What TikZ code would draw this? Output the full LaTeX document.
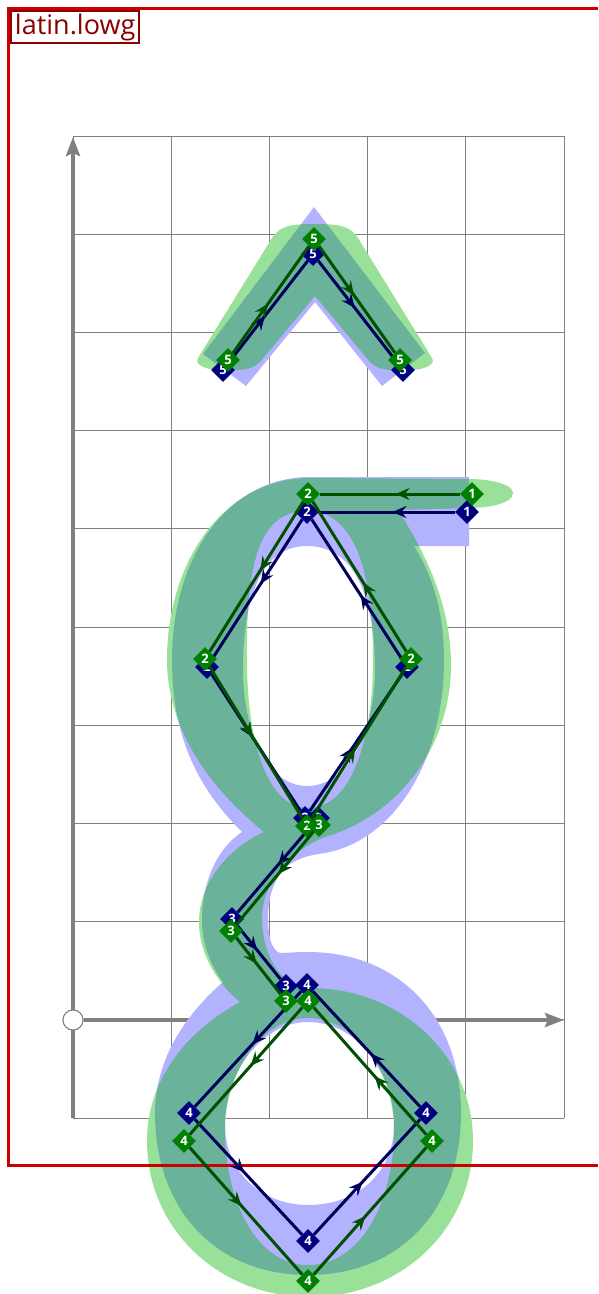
\documentclass[tikz,border=0pt]{standalone}
\usepackage{fontspec}
\setmainfont{Open Sans}
\definecolor{framered}{RGB}{204, 0, 0}
\definecolor{labelred}{RGB}{139, 0, 0}
\definecolor{axisgray}{RGB}{128, 128, 128}
\definecolor{ptblue}{RGB}{0, 0, 128}
\definecolor{ptgreen}{RGB}{0, 128, 0}
\definecolor{lineblue}{RGB}{0, 0, 90}
\definecolor{linegreen}{RGB}{0, 80, 0}
\definecolor{inkgreen}{RGB}{0, 180, 0}
\usetikzlibrary{arrows.meta, shapes.geometric, decorations.markings}
\tikzset{
	gridline/.style={draw=axisgray, line width=1pt},
	axisline/.style={-{Stealth[length=19pt, width=14pt, inset=3pt]}, draw=axisgray, fill=axisgray, line width=4pt},
	origincircle/.style={circle, draw=axisgray, fill=white, line width=1pt, minimum size=20pt, inner sep=0pt},
	frameline/.style={draw=framered, line width=3pt},
	namebox/.style={rectangle, draw=labelred, fill=white, line width=2pt, text=labelred, inner xsep=4pt, inner ysep=2.5pt, font=\fontsize{27}{29}\selectfont},
	blueink/.style={fill=blue, fill opacity=0.3, even odd rule},
	greenink/.style={fill=inkgreen, fill opacity=0.4, even odd rule},
	backink/.style={fill=white, even odd rule},
	bluept/.style={diamond, fill=ptblue, inner sep=0pt, minimum size=24pt, text=white, font=\fontsize{13}{13}\selectfont\bfseries},
	greenpt/.style={diamond, fill=ptgreen, inner sep=0pt, minimum size=24pt, text=white, font=\fontsize{13}{13}\selectfont\bfseries},
	midarrow/.style={postaction={decorate}, decoration={markings, mark=at position 0.46 with {\arrow{Stealth[length=14pt, width=12pt, inset=5pt]}}}},
	bluestroke/.style={midarrow, draw=lineblue, line width=3pt},
	greenstroke/.style={midarrow, draw=linegreen, line width=3pt},
}
\def\blueshape{
	(314,207) -- (425,353) -- (382,386) -- (315,302) -- (246,386) -- (203,354) -- cycle
	(469,477) -- (310,477) .. controls (228,477) and (172,556) .. (172,660)
	.. controls (172,740) and (200,790) .. (242,832)
	.. controls (215,850) and (202,885) .. (202,920)
	.. controls (202,945) and (212,968) .. (223,982)
	.. controls (185,1015) and (155,1060) .. (155,1113)
	.. controls (155,1210) and (216,1275) .. (308,1275)
	.. controls (400,1275) and (461,1210) .. (461,1113)
	.. controls (461,1018) and (400,952) .. (308,952)
	.. controls (295,952) and (285,953) .. (280,953)
	.. controls (272,950) and (268,938) .. (268,918)
	.. controls (268,895) and (275,880) .. (283,870)
	.. controls (295,858) and (310,855) .. (325,853)
	.. controls (395,840) and (444,760) .. (444,660)
	.. controls (444,610) and (432,575) .. (414,546)
	-- (469,546) -- cycle
	(307,546) .. controls (356,546) and (375,600) .. (375,670)
	.. controls (375,728) and (350,786) .. (307,786)
	.. controls (266,786) and (243,728) .. (243,670)
	.. controls (243,600) and (260,546) .. (307,546) -- cycle
	(308,1022) .. controls (357,1022) and (394,1072) .. (394,1125)
	.. controls (394,1172) and (358,1205) .. (308,1205)
	.. controls (262,1205) and (225,1172) .. (225,1125)
	.. controls (225,1072) and (262,1022) .. (308,1022) -- cycle
}
\def\greenshape{
	(314,224) .. controls (340,224) and (350,226) .. (358,238) -- (432,358) .. controls (436,364) and (425,370) .. (410,370) .. controls (390,371) and (378,370) .. (370,362) -- (315,296) -- (260,362) .. controls (252,370) and (240,371) .. (220,370) .. controls (205,370) and (194,364) .. (198,358) -- (272,238) .. controls (280,226) and (290,224) .. (314,224) -- cycle
	(468,479) .. controls (490,479) and (513,484) .. (513,493)
	.. controls (513,503) and (490,508) .. (468,508) -- (398,510)
	.. controls (430,560) and (451,610) .. (451,665)
	.. controls (451,745) and (400,815) .. (325,837)
	.. controls (295,848) and (262,880) .. (262,918)
	.. controls (262,950) and (278,988) .. (310,988)
	.. controls (400,988) and (473,1055) .. (473,1141)
	.. controls (473,1230) and (400,1297) .. (310,1297)
	.. controls (220,1297) and (147,1230) .. (147,1141)
	.. controls (147,1085) and (180,1035) .. (240,1002)
	.. controls (225,990) and (199,960) .. (199,922)
	.. controls (199,885) and (225,850) .. (264,832)
	.. controls (200,780) and (167,720) .. (167,660)
	.. controls (167,560) and (225,478) .. (310,478) -- cycle
	(307,511) .. controls (356,511) and (373,575) .. (373,660)
	.. controls (373,738) and (352,808) .. (308,808)
	.. controls (266,808) and (247,738) .. (247,660)
	.. controls (246,565) and (258,511) .. (307,511) -- cycle
	(308,1018) .. controls (355,1018) and (394,1072) .. (394,1130)
	.. controls (394,1200) and (362,1265) .. (308,1265)
	.. controls (256,1265) and (225,1200) .. (225,1130)
	.. controls (225,1072) and (262,1018) .. (308,1018) -- cycle
}
\begin{document}
\begin{tikzpicture}[x=1pt, y=-1pt]
		\useasboundingbox (0,0) rectangle (598,1294);
		% grid
		\foreach \gx in {73,171.2,269.4,367.6,465.8,564}
			\draw[gridline] (\gx,136) -- (\gx,1118);
		\foreach \gy in {136,234.2,332.4,430.6,528.8,627,725.2,823.4,921.6,1019.8,1118}
			\draw[gridline] (73,\gy) -- (564,\gy);
		% axes
		\coordinate (yfoot) at (73,1118);
		\coordinate (ytop) at (73,137);
		\coordinate (xtip) at (564,1020);
		\node[origincircle] (origin) at (73,1020) {};
		\draw[axisline] (yfoot) -- (ytop);
		\draw[axisline] (origin) -- (xtip);
		\node[origincircle] at (origin) {};
		% glyphs
		\path[backink] \blueshape;
		\path[backink] \greenshape;
		\path[blueink] \blueshape;
		\path[greenink] \greenshape;
		% frame
		\coordinate (frametr) at (598,8);
		\coordinate (frametl) at (8,8);
		\coordinate (framebl) at (8,1165);
		\coordinate (framebr) at (598,1165);
		\draw[frameline] (frametr) -- (frametl) -- (framebl) -- (framebr);
		\node[namebox, anchor=north west] (glyphname) at (10,10) {latin.lowg};
		% blue points
		\foreach \pname/\px/\py/\pnum in {bfa/223/370/5, bfb/313/254/5, bfc/403/370/5, bone/467/512/1, btwot/307/512/2, btwol/207/667/2, btwob/305/818/2, btwor/407/667/2, bthra/318/818/3, bthrb/232/919/3, bthrc/286/986/3, bfout/307/985/4, bfoul/189/1113/4, bfoub/308/1241/4, bfour/426/1113/4}
			\node[bluept] (\pname) at (\px,\py) {\pnum};
		\foreach \pa/\pb in {bfa/bfb, bfb/bfc, bone/btwot, btwot/btwol, btwol/btwob, btwob/btwor, btwor/btwot, bthra/bthrb, bthrb/bthrc, bfout/bfoul, bfoul/bfoub, bfoub/bfour, bfour/bfout}
			\draw[bluestroke] (\pa) -- (\pb);
		% green points
		\foreach \pname/\px/\py/\pnum in {gfa/228/360/5, gfb/314/239/5, gfc/400/360/5, gone/472/494/1, gtwot/308/494/2, gtwol/205/659/2, gtwob/307/826/2, gtwor/411/659/2, gthra/319/825/3, gthrb/231/931/3, gthrc/286/1001/3, gfout/308/1001/4, gfoul/184/1141/4, gfoub/308/1281/4, gfour/432/1141/4}
			\node[greenpt] (\pname) at (\px,\py) {\pnum};
		\foreach \pa/\pb in {gfa/gfb, gfb/gfc, gone/gtwot, gtwot/gtwol, gtwol/gtwob, gtwob/gtwor, gtwor/gtwot, gthra/gthrb, gthrb/gthrc, gfout/gfoul, gfoul/gfoub, gfoub/gfour, gfour/gfout}
			\draw[greenstroke] (\pa) -- (\pb);
	\end{tikzpicture}
\end{document}
